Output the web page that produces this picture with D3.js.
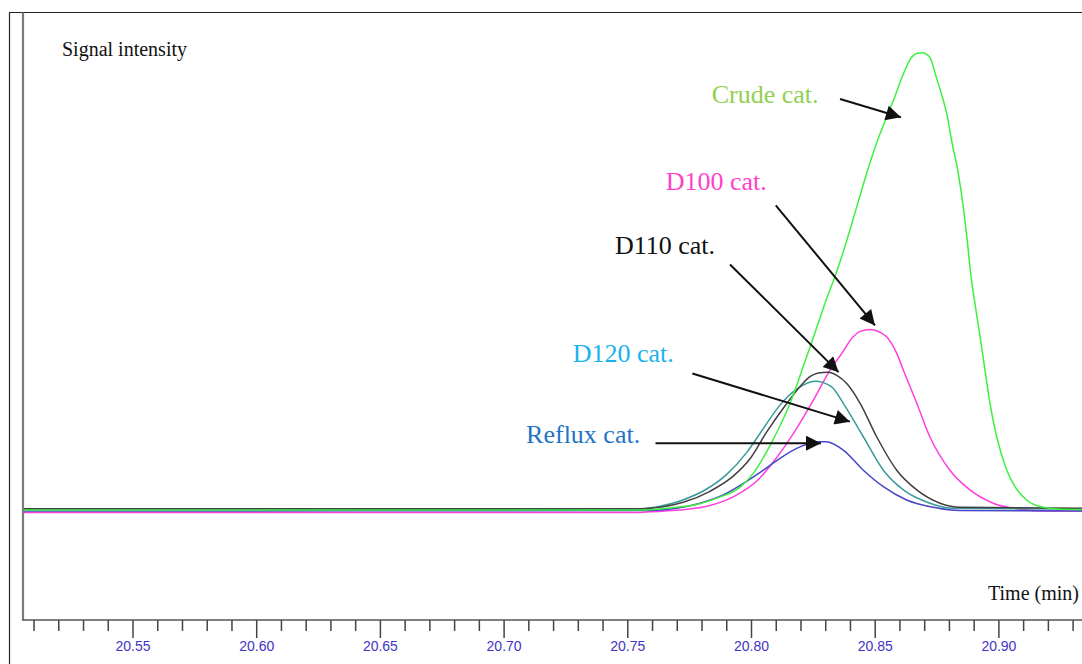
<!DOCTYPE html>
<html>
<head>
<meta charset="utf-8">
<script src="https://cdn.jsdelivr.net/npm/d3@7/dist/d3.min.js"></script>
<style>
  html, body { margin: 0; padding: 0; background: #fff; }
  svg { display: block; }
</style>
</head>
<body>
<svg id="chart" width="1082" height="664"></svg>
<script>
// Retention-time window (min) and tick labels
const tickValues = [20.51,20.52,20.53,20.54,20.55,20.56,20.57,20.58,20.59,20.60,
  20.61,20.62,20.63,20.64,20.65,20.66,20.67,20.68,20.69,20.70,
  20.71,20.72,20.73,20.74,20.75,20.76,20.77,20.78,20.79,20.80,
  20.81,20.82,20.83,20.84,20.85,20.86,20.87,20.88,20.89,20.90,
  20.91,20.92,20.93];
const majorTicks = [20.55, 20.60, 20.65, 20.70, 20.75, 20.80, 20.85, 20.90];
const tickLabels = ["20.55","20.60","20.65","20.70","20.75","20.80","20.85","20.90"];

// Chromatogram traces: [time (min), signal intensity (a.u.)]
const crude = [
  [20.505,0.2],[20.755,0.2],[20.7617,0.4],[20.7698,0.8],[20.7778,1.4],[20.7859,2.8],
  [20.7954,5.2],[20.8007,8.2],[20.8061,12.9],[20.8110,18.0],[20.8156,23.5],[20.8204,30.7],
  [20.8251,38.0],[20.8297,45.3],[20.8346,52.5],[20.8385,59.0],[20.8425,66.3],[20.8465,73.6],
  [20.8509,80.8],[20.8546,85.9],[20.8573,89.5],[20.8614,95.4],[20.8647,99.0],[20.8670,99.9],
  [20.8690,100.0],[20.8710,99.6],[20.8723,98.8],[20.8745,95.0],[20.8770,90.6],[20.8790,86.5],
  [20.8809,80.8],[20.8836,73.6],[20.8856,66.3],[20.8872,59.0],[20.8886,51.8],[20.8903,45.3],
  [20.8924,38.0],[20.8944,30.7],[20.8964,23.5],[20.8991,16.2],[20.9032,8.9],[20.9065,5.3],
  [20.9112,2.4],[20.9179,0.8],[20.9247,0.4],[20.94,0.3]
];
const d100 = [
  [20.505,-0.3],[20.755,-0.3],[20.759,-0.15],[20.7711,0.2],[20.7832,1.2],[20.7926,3.1],
  [20.8030,7.0],[20.8088,10.7],[20.8169,16.9],[20.8250,24.2],[20.8317,30.7],[20.8365,34.4],
  [20.8411,38.0],[20.8440,39.2],[20.8479,39.6],[20.8520,39.0],[20.8546,38.0],[20.8587,34.4],
  [20.8614,30.7],[20.8668,23.5],[20.8721,16.2],[20.8802,8.9],[20.8883,4.6],[20.8977,1.7],
  [20.9085,0.4],[20.92,0.0],[20.94,0.0]
];
const d110 = [
  [20.505,0.5],[20.755,0.5],[20.763,0.8],[20.7724,1.9],[20.7832,4.3],[20.7926,7.6],
  [20.7994,11.4],[20.8061,17.2],[20.8135,22.9],[20.8200,27.4],[20.8236,29.3],[20.8270,30.1],
  [20.8309,30.3],[20.8345,29.6],[20.8385,27.8],[20.8439,23.5],[20.8506,16.2],[20.8587,8.9],
  [20.8668,4.6],[20.8762,1.7],[20.8843,0.8],[20.94,0.6]
];
const d120 = [
  [20.505,0.4],[20.755,0.4],[20.7617,0.9],[20.7711,2.2],[20.7819,4.8],[20.790,8.0],
  [20.7981,12.8],[20.8048,18.0],[20.8115,23.1],[20.8183,26.6],[20.8257,28.3],[20.8324,27.1],
  [20.8371,23.5],[20.8452,16.2],[20.8533,8.9],[20.8614,4.6],[20.8721,1.7],[20.8816,0.6],
  [20.94,0.4]
];
const reflux = [
  [20.505,0.0],[20.759,0.1],[20.7698,0.6],[20.7792,1.7],[20.7886,3.5],[20.7967,6.0],
  [20.8048,8.9],[20.8115,11.5],[20.8196,14.0],[20.8277,15.1],[20.8300,15.1],[20.8371,13.3],
  [20.8452,8.9],[20.8533,5.3],[20.8627,2.4],[20.8735,0.8],[20.8843,0.1],[20.94,0.0]
];

const seriesNames = ["Reflux cat.", "D120 cat.", "D110 cat.", "D100 cat.", "Crude cat."];
const seriesData = [reflux, d120, d110, d100, crude];
const lineColors = ["#4646c8", "#3a9a9a", "#404040", "#ff3ee0", "#3ef03e"];
const labelColors = ["#1f74c4", "#19b2ec", "#111111", "#ff40c8", "#92d050"];

// Annotation anchors in data units: label position, arrow tail, arrow tip
const labelAt = [[20.7089,14.9],[20.7277,32.5],[20.7448,56.0],[20.7653,70.0],[20.7839,89.0]];
const arrowFrom = [[20.7612,14.8],[20.7761,30.0],[20.7913,53.8],[20.8098,66.7],[20.8358,89.9]];
const arrowTo = [[20.8281,14.8],[20.8398,19.5],[20.8352,30.3],[20.8499,40.5],[20.8604,85.9]];

const svg = d3.select("#chart");
const W = 1082, H = 664;
const axisLeft = 23, axisY = 620, frameL = 9.5, frameT = 12.5;
const serif = "'Liberation Serif', 'Times New Roman', serif";

const x = d3.scaleLinear().domain([20.50, 20.95]).range([9.3, 1122.6]);
const y = d3.scaleLinear().domain([0, 100]).range([511, 52.7]);

// outer frame
svg.append("path")
  .attr("d", `M${frameL},${H + 2}V${frameT}H${W + 2}`)
  .attr("fill", "none").attr("stroke", "#222").attr("stroke-width", 1.2);

// plot clip
svg.append("defs").append("clipPath").attr("id", "plotClip")
  .append("rect").attr("x", axisLeft + 1).attr("y", frameT).attr("width", W).attr("height", axisY - frameT);

// traces
const line = d3.line().x(d => x(d[0])).y(d => y(d[1])).curve(d3.curveMonotoneX);
const traces = svg.append("g").attr("clip-path", "url(#plotClip)");
[3, 0, 1, 2, 4].forEach(i => {
  traces.append("path")
    .datum(seriesData[i])
    .attr("d", line)
    .attr("fill", "none")
    .attr("stroke", lineColors[i])
    .attr("stroke-width", 1.5)
    .attr("stroke-linejoin", "round");
});

// y axis line
svg.append("line")
  .attr("x1", axisLeft).attr("x2", axisLeft)
  .attr("y1", frameT).attr("y2", axisY)
  .attr("stroke", "#7a7a7a").attr("stroke-width", 2.2);

// x axis with minor/major ticks
const xAxisG = svg.append("g").attr("transform", `translate(0,${axisY})`);
xAxisG.append("line")
  .attr("x1", axisLeft - 1).attr("x2", W)
  .attr("stroke", "#555").attr("stroke-width", 1.6);
const isMajor = v => majorTicks.some(m => Math.abs(m - v) < 1e-6);
xAxisG.selectAll("line.tick").data(tickValues).join("line")
  .attr("class", "tick")
  .attr("x1", d => x(d)).attr("x2", d => x(d))
  .attr("y1", 0).attr("y2", d => isMajor(d) ? 18 : 11)
  .attr("stroke", "#444").attr("stroke-width", 1.5);
xAxisG.selectAll("text.tl").data(majorTicks).join("text")
  .attr("class", "tl")
  .attr("x", d => x(d)).attr("y", 30.5)
  .attr("text-anchor", "middle")
  .attr("font-family", "'Liberation Sans', Arial, sans-serif")
  .attr("font-size", 14)
  .attr("fill", "#3f34c6")
  .text((d, i) => tickLabels[i]);

// axis titles
svg.append("text")
  .attr("x", 62).attr("y", 56)
  .attr("font-family", serif)
  .attr("font-size", 20).attr("fill", "#111")
  .text("Signal intensity");
svg.append("text")
  .attr("x", 988).attr("y", 600)
  .attr("font-family", serif)
  .attr("font-size", 20).attr("fill", "#111")
  .text("Time (min)");

// annotations
svg.append("defs").append("marker")
  .attr("id", "arrowHead")
  .attr("viewBox", "0 0 10 10")
  .attr("refX", 10).attr("refY", 5)
  .attr("markerUnits", "userSpaceOnUse")
  .attr("markerWidth", 18).attr("markerHeight", 15)
  .attr("orient", "auto")
  .append("path").attr("d", "M0,0L10,5L0,10Z").attr("fill", "#111");

const ann = svg.append("g");
seriesNames.forEach((name, i) => {
  ann.append("line")
    .attr("x1", x(arrowFrom[i][0])).attr("y1", y(arrowFrom[i][1]))
    .attr("x2", x(arrowTo[i][0])).attr("y2", y(arrowTo[i][1]))
    .attr("stroke", "#111").attr("stroke-width", 2)
    .attr("marker-end", "url(#arrowHead)");
  ann.append("text")
    .attr("x", x(labelAt[i][0])).attr("y", y(labelAt[i][1]))
    .attr("font-family", serif)
    .attr("font-size", 26)
    .attr("fill", labelColors[i])
    .text(name);
});
</script>
</body>
</html>
